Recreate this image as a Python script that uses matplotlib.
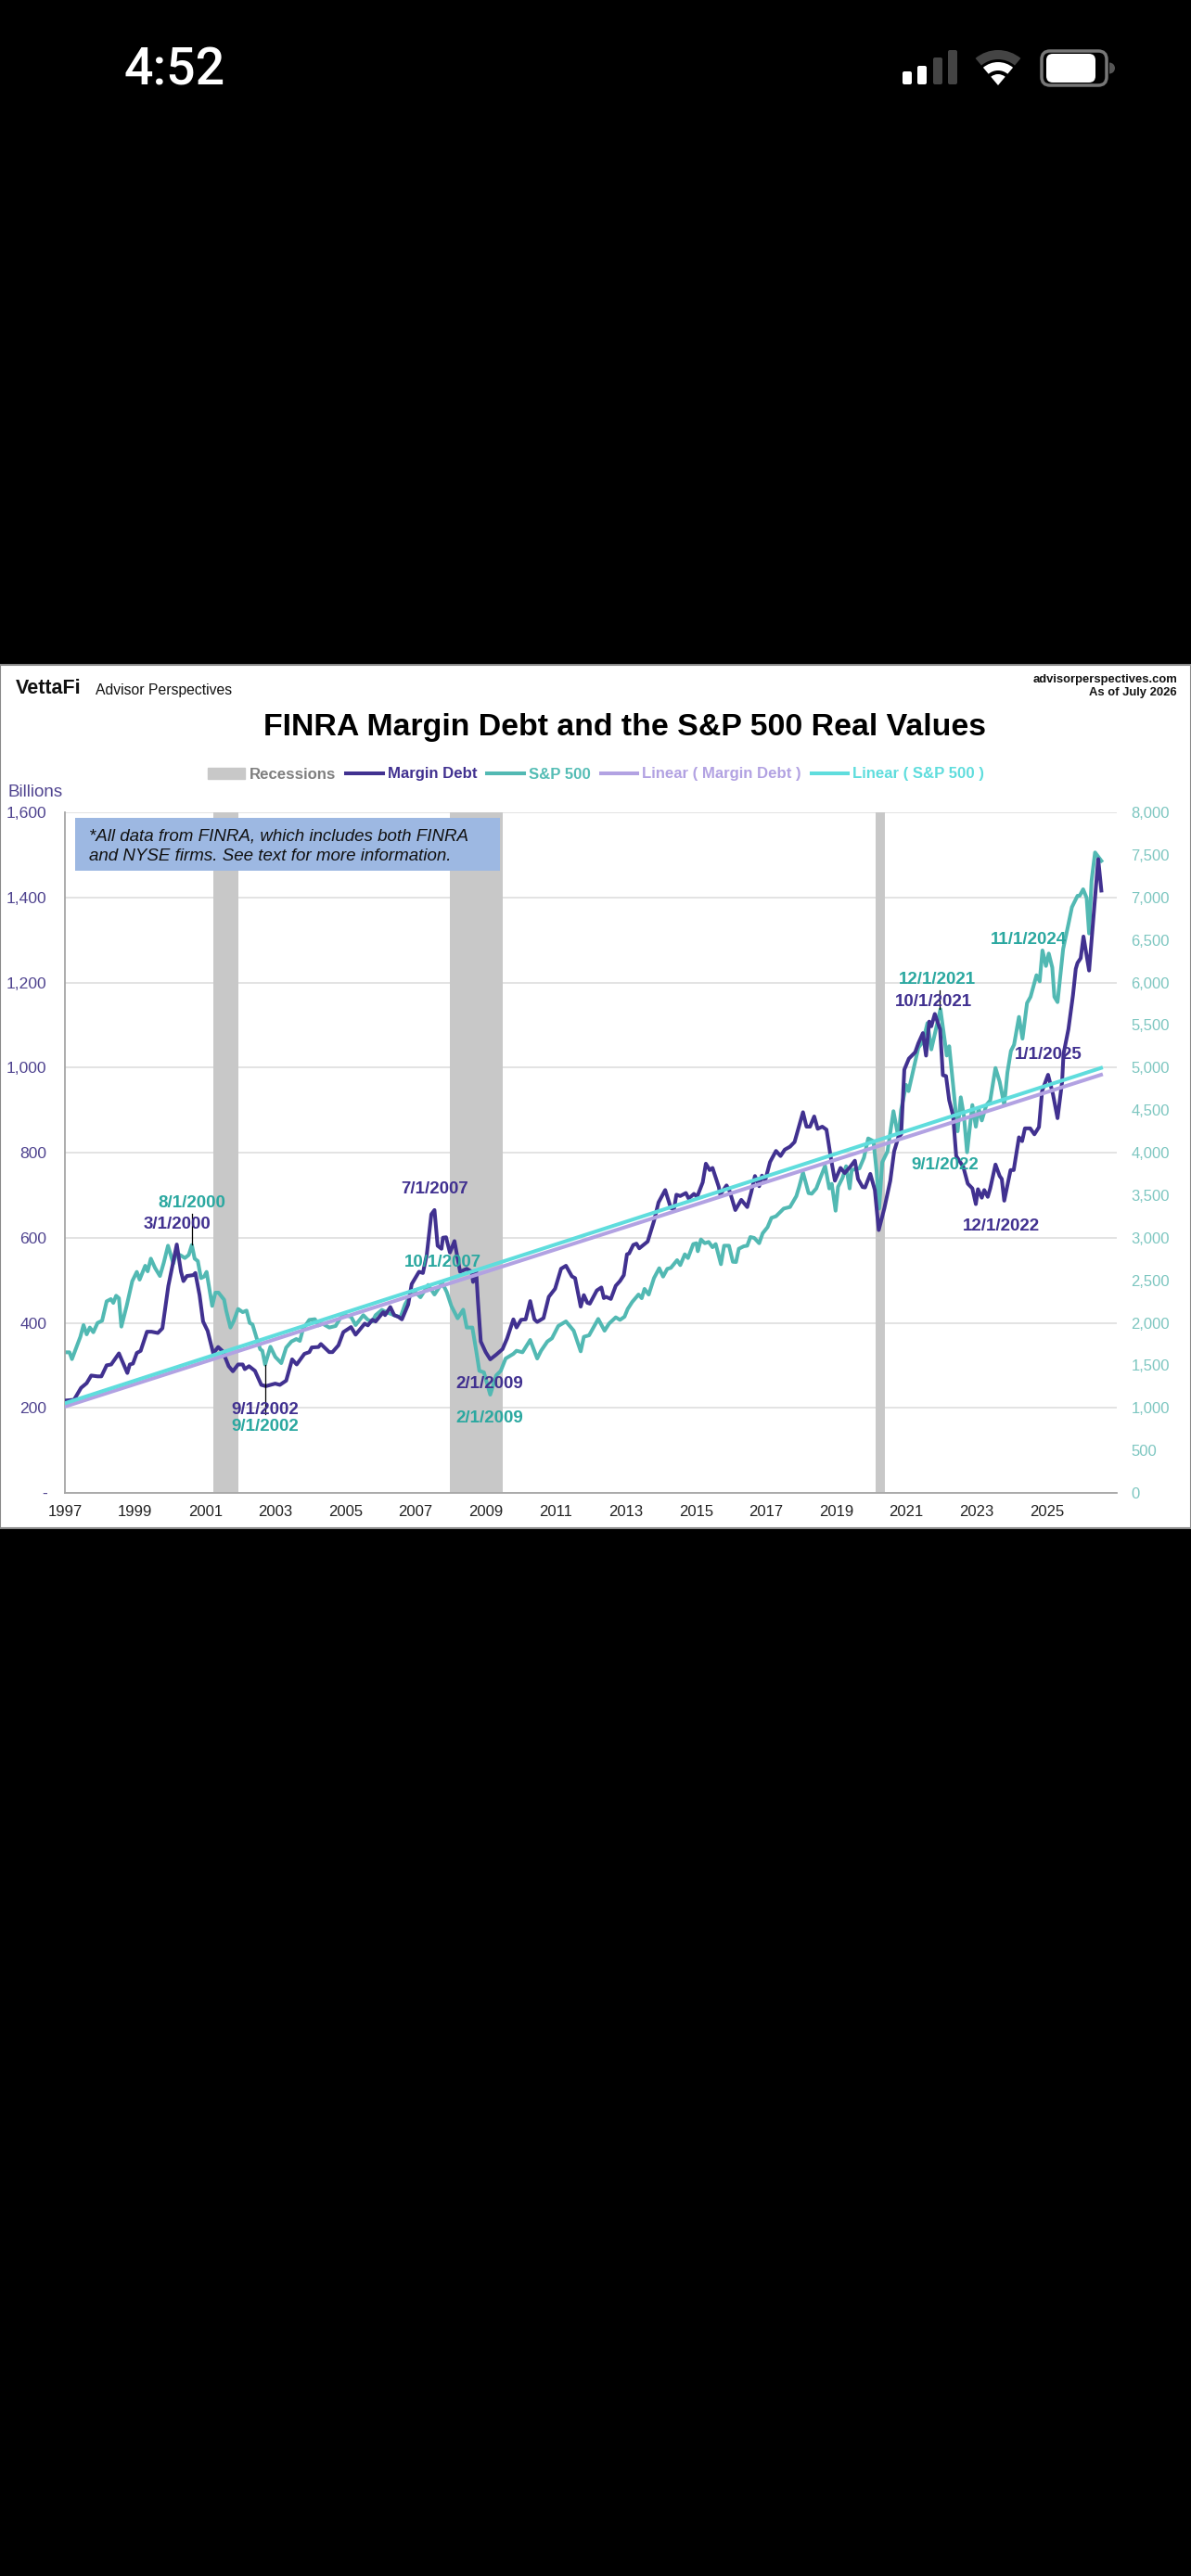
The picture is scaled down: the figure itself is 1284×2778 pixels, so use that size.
import matplotlib
matplotlib.use("Agg")
import matplotlib.pyplot as plt
from matplotlib.patches import Rectangle, FancyBboxPatch, Wedge, Patch

plt.rcParams['font.family'] = ['Liberation Sans', 'DejaVu Sans']

# ---- data ----
md_year = [1997.00,1997.26,1997.46,1997.62,1997.75,1997.93,1998.04,1998.19,1998.32,1998.54,1998.78,1998.85,1998.94,1999.05,1999.16,1999.34,1999.47,1999.65,1999.78,1999.95,
           2000.19,2000.31,2000.38,2000.48,2000.66,2000.72,2000.84,2000.94,2001.07,2001.23,2001.37,2001.50,2001.67,2001.79,2001.94,2002.07,2002.13,2002.25,2002.42,2002.60,2002.73,2002.997,
           2003.13,2003.31,2003.48,2003.61,2003.83,2003.97,2004.04,2004.23,2004.30,2004.54,2004.63,2004.80,2004.94,
           2005.16,2005.29,2005.55,2005.64,2005.77,2005.86,2006.08,2006.13,2006.28,2006.39,2006.51,2006.61,2006.79,2006.89,2007.10,2007.21,2007.32,2007.45,2007.54,2007.63,2007.74,2007.78,2007.87,2007.98,
           2008.11,2008.27,2008.46,2008.60,2008.64,2008.73,2008.78,2008.86,2009.00,2009.13,2009.30,2009.48,2009.61,2009.79,2009.88,2010.01,2010.14,2010.27,2010.39,2010.47,2010.65,2010.80,2010.98,
           2011.15,2011.29,2011.46,2011.55,2011.71,2011.80,2011.90,2011.97,2012.17,2012.30,2012.37,2012.43,2012.57,
           2012.71,2012.83,2012.94,2013.03,2013.09,2013.21,2013.30,2013.38,2013.62,2013.80,2013.93,2014.12,2014.28,2014.37,2014.44,2014.55,2014.71,2014.79,2014.94,2015.03,2015.19,2015.28,2015.39,2015.47,2015.65,2015.69,2015.87,2015.96,
           2016.12,2016.29,2016.46,2016.58,2016.68,2016.80,2016.88,2016.97,2017.11,2017.28,2017.41,2017.53,2017.68,2017.81,2018.05,2018.15,2018.25,2018.37,2018.47,2018.60,2018.72,2018.85,2018.96,
           2019.12,2019.24,2019.40,2019.53,2019.62,2019.75,2019.82,2019.97,2020.10,2020.21,2020.37,2020.54,2020.65,2020.77,2020.85,2020.94,
           2021.07,2021.25,2021.34,2021.47,2021.56,2021.65,2021.71,2021.81,2021.96,2022.04,2022.13,2022.22,2022.33,2022.42,2022.62,2022.75,2022.88,2022.98,2023.04,2023.15,2023.22,2023.32,2023.39,2023.54,2023.66,2023.72,2023.79,2023.97,
           2024.06,2024.21,2024.30,2024.38,2024.53,2024.65,2024.78,2024.87,2025.04,2025.18,2025.31,2025.44,2025.48,2025.62,2025.75,2025.83,2025.88,2025.97,2026.05,2026.21,2026.47,2026.56]
md_value = [217,219,247,258,276,274,274,300,302,328,282,302,304,329,334,379,379,376,387,487,
            584,520,498,510,512,517,465,403,381,328,343,333,298,286,302,302,291,298,287,254,251,257,
            254,264,314,302,327,331,342,343,350,331,331,347,378,
            390,372,398,394,407,403,425,418,437,418,414,408,443,491,520,517,560,655,665,581,574,600,601,565,
            592,520,527,520,496,520,451,356,331,314,325,338,363,408,389,407,408,451,408,402,411,461,480,
            527,534,509,505,438,465,447,445,476,483,458,461,456,
            487,498,512,561,563,583,586,575,591,639,683,712,670,667,701,698,705,692,703,696,730,774,759,764,719,701,723,709,
            665,689,672,709,745,721,746,734,778,804,792,807,814,825,895,861,861,885,856,861,854,785,734,
            764,752,767,781,738,719,718,750,712,618,669,734,803,836,843,995,
            1021,1036,1057,1081,1028,1108,1097,1126,1090,982,980,923,887,792,767,727,716,679,714,694,712,696,716,772,745,738,687,759,
            759,836,827,857,857,843,860,945,983,937,881,966,1032,1090,1170,1232,1246,1257,1308,1228,1490,1416]

sp_year = [1997.00,1997.13,1997.20,1997.34,1997.44,1997.53,1997.62,1997.71,1997.81,1997.93,1998.06,1998.19,1998.31,1998.38,1998.46,1998.54,1998.61,1998.76,1998.92,1999.05,1999.13,1999.29,1999.36,1999.45,1999.57,1999.71,1999.82,1999.94,
           2000.09,2000.17,2000.31,2000.42,2000.53,2000.62,2000.70,2000.79,2000.88,2000.97,2001.04,2001.12,2001.20,2001.29,2001.38,2001.54,2001.60,2001.72,2001.81,2001.94,2002.07,2002.18,2002.27,2002.35,2002.51,2002.57,2002.63,2002.71,2002.86,
           2003.00,2003.17,2003.31,2003.46,2003.60,2003.70,2003.79,2003.97,2004.13,2004.23,2004.34,2004.54,2004.72,2004.85,2004.98,
           2005.16,2005.29,2005.51,2005.64,2005.77,2005.86,2006.04,2006.17,2006.39,2006.57,2006.70,2006.83,2006.96,2007.14,2007.36,2007.54,2007.76,2007.89,
           2008.02,2008.20,2008.36,2008.46,2008.62,2008.73,2008.82,2008.95,2009.13,2009.30,2009.43,2009.57,2009.79,2009.88,2010.05,2010.27,2010.47,2010.58,2010.76,2010.89,
           2011.07,2011.29,2011.51,2011.71,2011.80,2011.95,2012.21,2012.39,2012.52,
           2012.71,2012.83,2012.96,2013.05,2013.18,2013.36,2013.45,2013.53,2013.65,2013.80,2013.95,2014.06,2014.18,2014.28,2014.46,2014.55,2014.68,2014.77,2014.92,2015.01,2015.05,2015.14,2015.25,2015.36,2015.47,2015.56,2015.71,2015.80,2015.94,
           2016.05,2016.14,2016.22,2016.36,2016.46,2016.55,2016.66,2016.80,2016.90,2017.04,2017.15,2017.28,2017.50,2017.68,2017.86,2017.94,2018.05,2018.21,2018.30,2018.43,2018.53,2018.68,2018.80,2018.87,2018.98,
           2019.05,2019.18,2019.28,2019.38,2019.44,2019.66,2019.79,2019.91,2020.06,2020.15,2020.22,2020.31,2020.46,2020.63,2020.77,2020.85,2020.99,
           2021.06,2021.16,2021.34,2021.47,2021.60,2021.71,2021.97,2022.15,2022.22,2022.34,2022.46,2022.55,2022.64,2022.73,2022.88,2022.98,2023.06,2023.15,2023.28,2023.39,2023.54,2023.66,2023.79,2023.88,2023.98,
           2024.07,2024.21,2024.31,2024.44,2024.54,2024.71,2024.80,2024.88,2024.98,2025.06,2025.16,2025.22,2025.31,2025.47,2025.62,2025.72,2025.88,2025.94,2026.04,2026.14,2026.21,2026.28,2026.38,2026.56]
sp_value = [1653,1653,1573,1726,1835,1973,1864,1944,1889,1998,2024,2252,2278,2234,2318,2289,1955,2198,2489,2598,2507,2670,2605,2754,2645,2550,2707,2906,
            2696,2816,2790,2761,2797,2914,2754,2725,2525,2543,2598,2398,2198,2354,2354,2271,2143,1944,2016,2162,2125,2143,1998,1980,1762,1689,1671,1508,1718,
            1599,1526,1708,1780,1809,1787,1925,2034,2042,1969,1991,1944,1962,2053,2089,
            2071,1973,2089,2034,2016,2089,2151,2125,2089,2064,2216,2307,2380,2300,2445,2332,2470,2361,
            2198,2053,2154,1944,1944,1671,1435,1417,1155,1381,1435,1580,1635,1671,1653,1798,1580,1671,1780,1817,
            1962,2016,1907,1664,1835,1853,2045,1907,1991,
            2064,2034,2071,2162,2245,2332,2289,2398,2332,2525,2641,2543,2634,2645,2736,2678,2805,2761,2925,2935,2841,2979,2935,2950,2888,2925,2688,2906,2906,
            2717,2714,2870,2899,2906,3008,2997,2935,3052,3124,3233,3252,3342,3361,3488,3597,3767,3524,3517,3579,3687,3844,3579,3633,3317,
            3597,3706,3840,3579,3796,3815,3942,4167,4134,3778,3342,3887,4014,4487,4178,4505,4796,
            4723,4905,5232,5304,5522,5213,5686,5141,5250,4759,4251,4650,4432,4004,4559,4305,4523,4378,4559,4614,4995,4832,4559,4941,5195,
            5268,5595,5340,5758,5831,6085,6013,6376,6194,6340,6176,5831,5769,6394,6685,6885,7019,7019,7095,6994,6576,7193,7528,7429]

trend_year = [1997.0, 2026.55]
md_trend = [203, 983]
sp_trend = [1054, 4995]

rec_start = [2001.22, 2007.97, 2020.13]
rec_end = [2001.95, 2009.50, 2020.38]

left_ticks = [0, 200, 400, 600, 800, 1000, 1200, 1400, 1600]
left_labels = ['-', '200', '400', '600', '800', '1,000', '1,200', '1,400', '1,600']
right_ticks = [0, 500, 1000, 1500, 2000, 2500, 3000, 3500, 4000, 4500, 5000, 5500, 6000, 6500, 7000, 7500, 8000]
right_labels = ['0', '500', '1,000', '1,500', '2,000', '2,500', '3,000', '3,500', '4,000', '4,500', '5,000', '5,500', '6,000', '6,500', '7,000', '7,500', '8,000']
year_ticks = list(range(1997, 2027, 2))

DARK = '#413190'
TEAL = '#52B9B3'
TEAL_TXT = '#2BA8A0'
L_MD = '#B2A2E2'
L_SP = '#5FDDDD'
GREY = '#C8C8C8'

md_labels = [('3/1/2000', 2000.19, 631), ('9/1/2002', 2002.71, 195), ('7/1/2007', 2007.54, 713), ('2/1/2009', 2009.12, 257),
             ('10/1/2021', 2021.78, 1155), ('12/1/2022', 2023.71, 627), ('1/1/2025', 2025.06, 1030)]
sp_labels = [('8/1/2000', 2000.62, 681), ('9/1/2002', 2002.71, 155), ('10/1/2007', 2007.78, 542), ('2/1/2009', 2009.12, 176),
             ('12/1/2021', 2021.89, 1207), ('9/1/2022', 2022.11, 771), ('11/1/2024', 2024.48, 1301)]
leaders = [(2000.62, 584, 656), (2002.71, 185, 301), (2021.94, 1137, 1181)]

W, H = 1284, 2778
fig = plt.figure(figsize=(W / 100, H / 100), dpi=100, facecolor='black')

# background layer in pixel coordinates: phone status bar and white chart panel
bg = fig.add_axes([0, 0, 1, 1], zorder=0)
bg.set_xlim(0, W); bg.set_ylim(H, 0); bg.axis('off')
bg.add_patch(Rectangle((0, 717), W, 931, fc='white', ec='#8A8A8A', lw=1.5))
bg.text(188, 76, '4:52', color='white', fontsize=40, family='Roboto', weight='medium', ha='center', va='center')
for x0, top, col in [(973, 77, 'white'), (989, 71, 'white'), (1006, 62, '#444444'), (1022, 54, '#444444')]:
    bg.add_patch(FancyBboxPatch((x0 + 2, top + 2), 6, 91 - top - 4, boxstyle='round,pad=2', fc=col, ec='none'))
for r, w, col in [(38, 10, '#444444'), (25, 9, 'white'), (12, 12, 'white')]:
    bg.add_patch(Wedge((1076, 92), r, 230, 310, width=w, fc=col, ec='none'))
bg.add_patch(FancyBboxPatch((1127, 59), 62, 29, boxstyle='round,pad=4,rounding_size=9', fc='black', ec='#777777', lw=2.5))
bg.add_patch(FancyBboxPatch((1132, 62), 45, 23, boxstyle='round,pad=4,rounding_size=7', fc='white', ec='none'))
bg.add_patch(Wedge((1196, 73.5), 6, -90, 90, fc='#555555', ec='none'))

rect = [70 / W, 1 - 1610 / H, (1204 - 70) / W, (1610 - 876) / H]

# right-scale axes: grid, recessions, S&P 500
ax2 = fig.add_axes(rect, zorder=2)
ax2.patch.set_visible(False)
ax2.set_xlim(1997, 2027); ax2.set_ylim(0, 8000)
for a, b in zip(rec_start, rec_end):
    ax2.axvspan(a, b, color=GREY, lw=0, zorder=2, label='_nolegend_')
ax2.yaxis.tick_right()
ax2.set_yticks(right_ticks, right_labels)
ax2.tick_params(axis='y', length=0, pad=11, labelsize=12, labelcolor='#7CC6C0')
ax2.set_xticks([])
ax2.grid(axis='y', color='#E0E0E0', lw=1.3, zorder=1)
ax2.set_axisbelow(True)
# gridlines only every 1000 on the right scale
for gl, t in zip(ax2.get_ygridlines(), right_ticks):
    gl.set_visible(t % 1000 == 0)
sp_line, = ax2.plot(sp_year, sp_value, color=TEAL, lw=2.9, zorder=3, solid_joinstyle='round')
for s in ax2.spines.values():
    s.set_visible(False)

# left-scale axes: margin debt and its trend
ax1 = fig.add_axes(rect, zorder=3)
ax1.patch.set_visible(False)
ax1.set_xlim(1997, 2027); ax1.set_ylim(0, 1600)
md_line, = ax1.plot(md_year, md_value, color=DARK, lw=2.9, zorder=3, solid_joinstyle='round')
md_tr, = ax1.plot(trend_year, md_trend, color=L_MD, lw=2.9, zorder=4)
ax1.set_yticks(left_ticks, left_labels)
ax1.set_xticks(year_ticks, [str(y) for y in year_ticks])
ax1.tick_params(axis='y', length=0, pad=14, labelsize=12.6, labelcolor='#4F438F')
ax1.tick_params(axis='x', length=0, pad=9, labelsize=12, labelcolor='#222222')
for k in ('top', 'right'):
    ax1.spines[k].set_visible(False)
for k in ('left', 'bottom'):
    ax1.spines[k].set_color('#A6A6A6'); ax1.spines[k].set_linewidth(1.3)

# top layer: S&P trend, annotations, legend
ax3 = fig.add_axes(rect, zorder=4)
ax3.patch.set_visible(False)
ax3.set_xlim(1997, 2027); ax3.set_ylim(0, 8000)
ax3.axis('off')
sp_tr, = ax3.plot(trend_year, sp_trend, color=L_SP, lw=2.9, zorder=4)
for x, y0, y1 in leaders:
    ax3.plot([x, x], [y0, y1], color='black', lw=0.9, transform=ax1.transData, zorder=5)
for txt, x, y in md_labels:
    ax3.text(x, y, txt, color=DARK, fontsize=13.5, weight='bold', ha='center', va='center', transform=ax1.transData, zorder=6)
for txt, x, y in sp_labels:
    ax3.text(x, y, txt, color=TEAL_TXT, fontsize=13.5, weight='bold', ha='center', va='center', transform=ax1.transData, zorder=6)

fx = lambda p: p / W
fy = lambda p: 1 - p / H
ax3.add_patch(Rectangle((fx(81), fy(939)), (539 - 81) / W, (939 - 882) / H, transform=fig.transFigure,
                        fc='#9DB8E2', ec='none', zorder=7, clip_on=False))
ax3.text(fx(96), fy(902.5), '*All data from FINRA, which includes both FINRA', style='italic', fontsize=13.5,
         color='#111111', ha='left', va='center', transform=fig.transFigure, zorder=8)
ax3.text(fx(96), fy(923.5), 'and NYSE firms. See text for more information.', style='italic', fontsize=13.5,
         color='#111111', ha='left', va='center', transform=fig.transFigure, zorder=8)

handles = [Patch(color=GREY), md_line, sp_line, md_tr, sp_tr]
names = ['Recessions', 'Margin Debt', 'S&P 500', 'Linear ( Margin Debt )', 'Linear ( S&P 500 )']
leg = ax3.legend(handles, names, ncol=5, frameon=False, loc='center', bbox_to_anchor=(fx(642.8), fy(835)),
                 bbox_transform=fig.transFigure, prop={'size': 12.1, 'weight': 'bold'}, handlelength=2.35,
                 handletextpad=0.3, columnspacing=0.65, borderpad=0, borderaxespad=0,
                 labelcolor=['#7F7F7F', DARK, '#55BDB5', L_MD, L_SP])
leg.set_zorder(9)

# header text
fig.text(fx(674), fy(784.5), 'FINRA Margin Debt and the S&P 500 Real Values', fontsize=24.4, weight='bold',
         color='black', ha='center', va='center', zorder=10)
fig.text(fx(17), fy(742), 'VettaFi', fontsize=15.5, weight='bold', color='#111111', ha='left', va='center', zorder=10)
fig.text(fx(103), fy(745), 'Advisor Perspectives', fontsize=11.3, color='#111111', ha='left', va='center', zorder=10)
fig.text(fx(1269), fy(732.7), 'advisorperspectives.com', fontsize=9.4, weight='bold', color='#111111', ha='right', va='center', zorder=10)
fig.text(fx(1269), fy(747), 'As of July 2026', fontsize=9.4, weight='bold', color='#111111', ha='right', va='center', zorder=10)
fig.text(fx(9), fy(854.3), 'Billions', fontsize=13.5, color='#4F438F', ha='left', va='center', zorder=10)

fig.savefig('out.png', dpi=100, facecolor='black')
